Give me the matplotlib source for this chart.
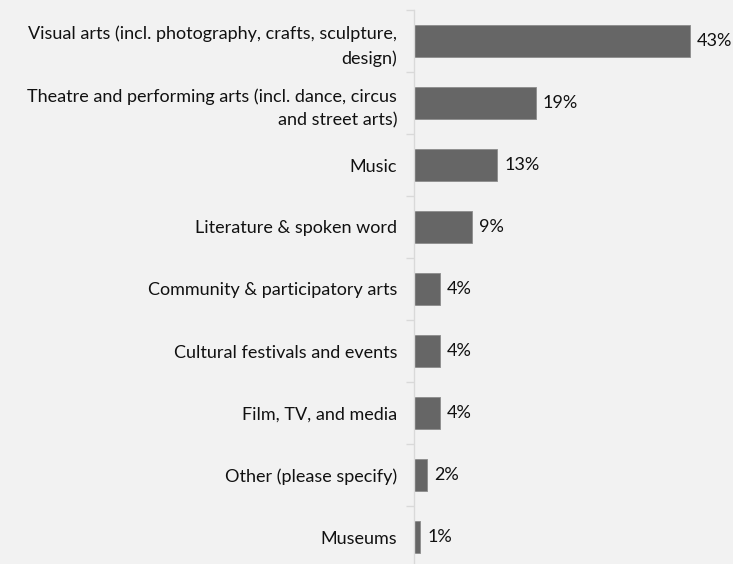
import matplotlib.pyplot as plt
import numpy as np

plt.rcParams['font.family'] = ['Lato', 'DejaVu Sans']

# data
categories = [
    "Visual arts (incl. photography, crafts, sculpture,\ndesign)",
    "Theatre and performing arts (incl. dance, circus\nand street arts)",
    "Music",
    "Literature & spoken word",
    "Community & participatory arts",
    "Cultural festivals and events",
    "Film, TV, and media",
    "Other (please specify)",
    "Museums",
]
values = [43, 19, 13, 9, 4, 4, 4, 2, 1]
value_labels = ["43%", "19%", "13%", "9%", "4%", "4%", "4%", "2%", "1%"]

bg = '#f2f2f2'
fig = plt.figure(figsize=(7.33, 5.64), dpi=100, facecolor=bg)
# axis runs slightly past the bottom edge, like the original
ax = fig.add_axes([414 / 733, -4 / 564, 308 / 733, 558 / 564], facecolor=bg)

y = np.arange(len(categories))
ax.barh(y, values, height=0.52, color='#666666', edgecolor='#8c8c8c', linewidth=0.6)

for yi, v, lab in zip(y, values, value_labels):
    ax.text(v + 1.1, yi, lab, va='center', ha='left', fontsize=13, color='#111111')

ax.set_xlim(0, 48)
ax.set_ylim(len(categories) - 0.5, -0.5)

ax.set_yticks(y)
ax.set_yticklabels(categories, fontsize=13, color='#111111', linespacing=1.55)
ax.tick_params(axis='y', length=0, pad=12)
ax.set_yticks(np.arange(len(categories) + 1) - 0.5, minor=True)
ax.tick_params(axis='y', which='minor', length=6, color='#d9d9d9', width=1)
ax.set_xticks([])

for s in ['top', 'right', 'bottom']:
    ax.spines[s].set_visible(False)
ax.spines['left'].set_color('#d9d9d9')
ax.spines['left'].set_linewidth(1)

fig.savefig('out.png', dpi=100, facecolor=bg)
